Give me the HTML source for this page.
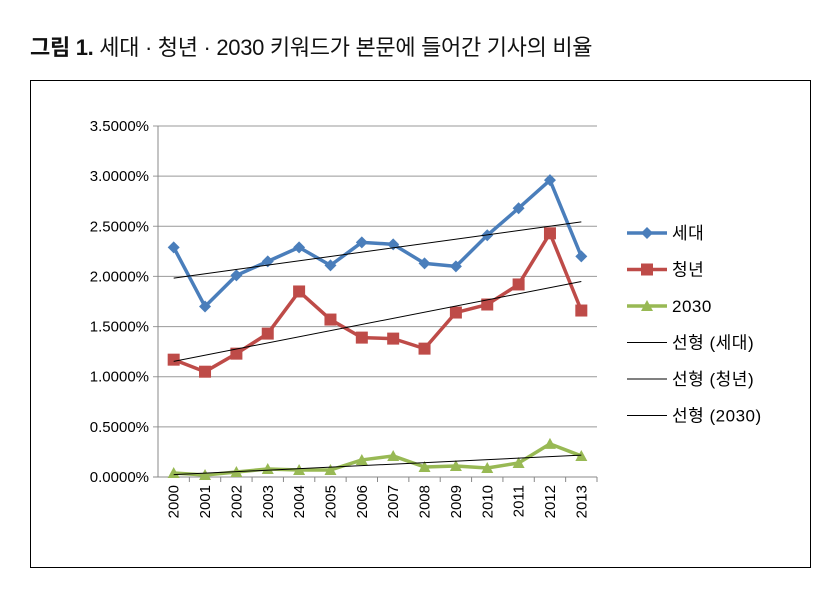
<!DOCTYPE html>
<html><head><meta charset="utf-8"><style>
body{margin:0;background:#fff;width:830px;height:592px;overflow:hidden;font-family:"Liberation Sans","Noto Sans CJK KR",sans-serif;}
</style></head><body>
<div style="position:absolute;left:30px;top:30px;font-size:22px;color:#111;letter-spacing:-0.3px;"><b>그림 1.</b> 세대 · 청년 · 2030 키워드가 본문에 들어간 기사의 비율</div>
<svg id="chart" width="830" height="592" style="position:absolute;left:0;top:0" xmlns="http://www.w3.org/2000/svg">
<rect x="30.5" y="80.5" width="780" height="487" fill="none" stroke="#000" stroke-width="1"/>
</svg>
<script>
const years=["2000","2001","2002","2003","2004","2005","2006","2007","2008","2009","2010","2011","2012","2013"];
const seDae=[2.29,1.70,2.01,2.15,2.29,2.11,2.34,2.32,2.13,2.10,2.41,2.68,2.96,2.20];
const chungNyeon=[1.17,1.05,1.23,1.43,1.85,1.57,1.39,1.38,1.28,1.64,1.72,1.92,2.43,1.66];
const s2030=[0.04,0.02,0.05,0.08,0.07,0.07,0.17,0.21,0.10,0.11,0.09,0.14,0.33,0.21];
const yTicks=[0,0.5,1,1.5,2,2.5,3,3.5];
const yTickLabels=["0.0000%","0.5000%","1.0000%","1.5000%","2.0000%","2.5000%","3.0000%","3.5000%"];
const NS="http://www.w3.org/2000/svg",svg=document.getElementById('chart');
const x0=158,x1=597,yB=477,yT=126;
function xs(i){return x0+(x1-x0)/years.length*(i+0.5);}
function ys(v){return yB-(yB-yT)*v/3.5;}
function mk(t,a,p){const e=document.createElementNS(NS,t);for(const k in a)e.setAttribute(k,a[k]);(p||svg).appendChild(e);return e;}
yTicks.forEach((v,i)=>{
 const l=mk('line',{x1:x0-5,x2:x1,y1:ys(v),y2:ys(v),stroke:i==0?'#888':'#999','stroke-width':1});
 
 
 const t=mk('text',{x:x0-9,y:ys(v)+5,'text-anchor':'end','font-size':15,fill:'#000'});
 t.textContent=yTickLabels[i];
 
 
});
const ax=mk('line',{x1:x0,x2:x0,y1:yT,y2:yB,stroke:'#888'});


years.forEach((y,i)=>{
 const tk=mk('line',{x1:x0+(x1-x0)/years.length*(i+1),x2:x0+(x1-x0)/years.length*(i+1),y1:yB,y2:yB+5,stroke:'#888'});
 
 
 const t=mk('text',{x:0,y:0,'font-size':15,'text-anchor':'end',transform:`translate(${xs(i)+5},${yB+8}) rotate(-90)`});
 t.textContent=y;
 
 
});
function trend(d){const n=d.length;let sx=0,sy=0,sxy=0,sxx=0;d.forEach((v,i)=>{sx+=i;sy+=v;sxy+=i*v;sxx+=i*i;});const b=(n*sxy-sx*sy)/(n*sxx-sx*sx),a=(sy-b*sx)/n;return [a,a+b*(n-1)];}
function series(d,color,shape,name){
 const pts=d.map((v,i)=>xs(i)+','+ys(v)).join(' ');
 const pl=mk('polyline',{points:pts,fill:'none',stroke:color,'stroke-width':3.5,'stroke-linejoin':'round'});
 
 
 d.forEach((v,i)=>{const m=marker(xs(i),ys(v),color,shape);
  
  });
}
function marker(x,y,c,s){
 if(s=='d')return mk('polygon',{points:`${x},${y-6} ${x+6},${y} ${x},${y+6} ${x-6},${y}`,fill:c});
 if(s=='s')return mk('rect',{x:x-6,y:y-6,width:12,height:12,fill:c});
 return mk('polygon',{points:`${x},${y-6} ${x+6},${y+5} ${x-6},${y+5}`,fill:c});
}
series(seDae,'#4a7ebb','d','sedae');
series(chungNyeon,'#be4b48','s','chungnyeon');
series(s2030,'#98b954','t','s2030');
[[seDae,'trend-sedae'],[chungNyeon,'trend-chungnyeon'],[s2030,'trend-2030']].forEach(([d,n])=>{
 const [a,b]=trend(d);
 const l=mk('line',{x1:xs(0),y1:ys(a),x2:xs(d.length-1),y2:ys(b),stroke:'#000','stroke-width':1});
 
 
});
const leg=[['세대','#4a7ebb','d',3.5],['청년','#be4b48','s',3.5],['2030','#98b954','t',3.5],['선형 (세대)','#000',null,1],['선형 (청년)','#000',null,1],['선형 (2030)','#000',null,1]];
leg.forEach((e,i)=>{
 const y=233+i*36.5;
 const g=mk('g',{});
 
 
 mk('line',{x1:627,x2:667,y1:y,y2:y,stroke:e[1],'stroke-width':e[3]},g);
 if(e[2])g.appendChild(marker(647,y,e[1],e[2]));
 const t=mk('text',{x:672,y:y+6,'font-size':17,'letter-spacing':'0.5'},g);t.textContent=e[0];
});
</script>
</body></html>
